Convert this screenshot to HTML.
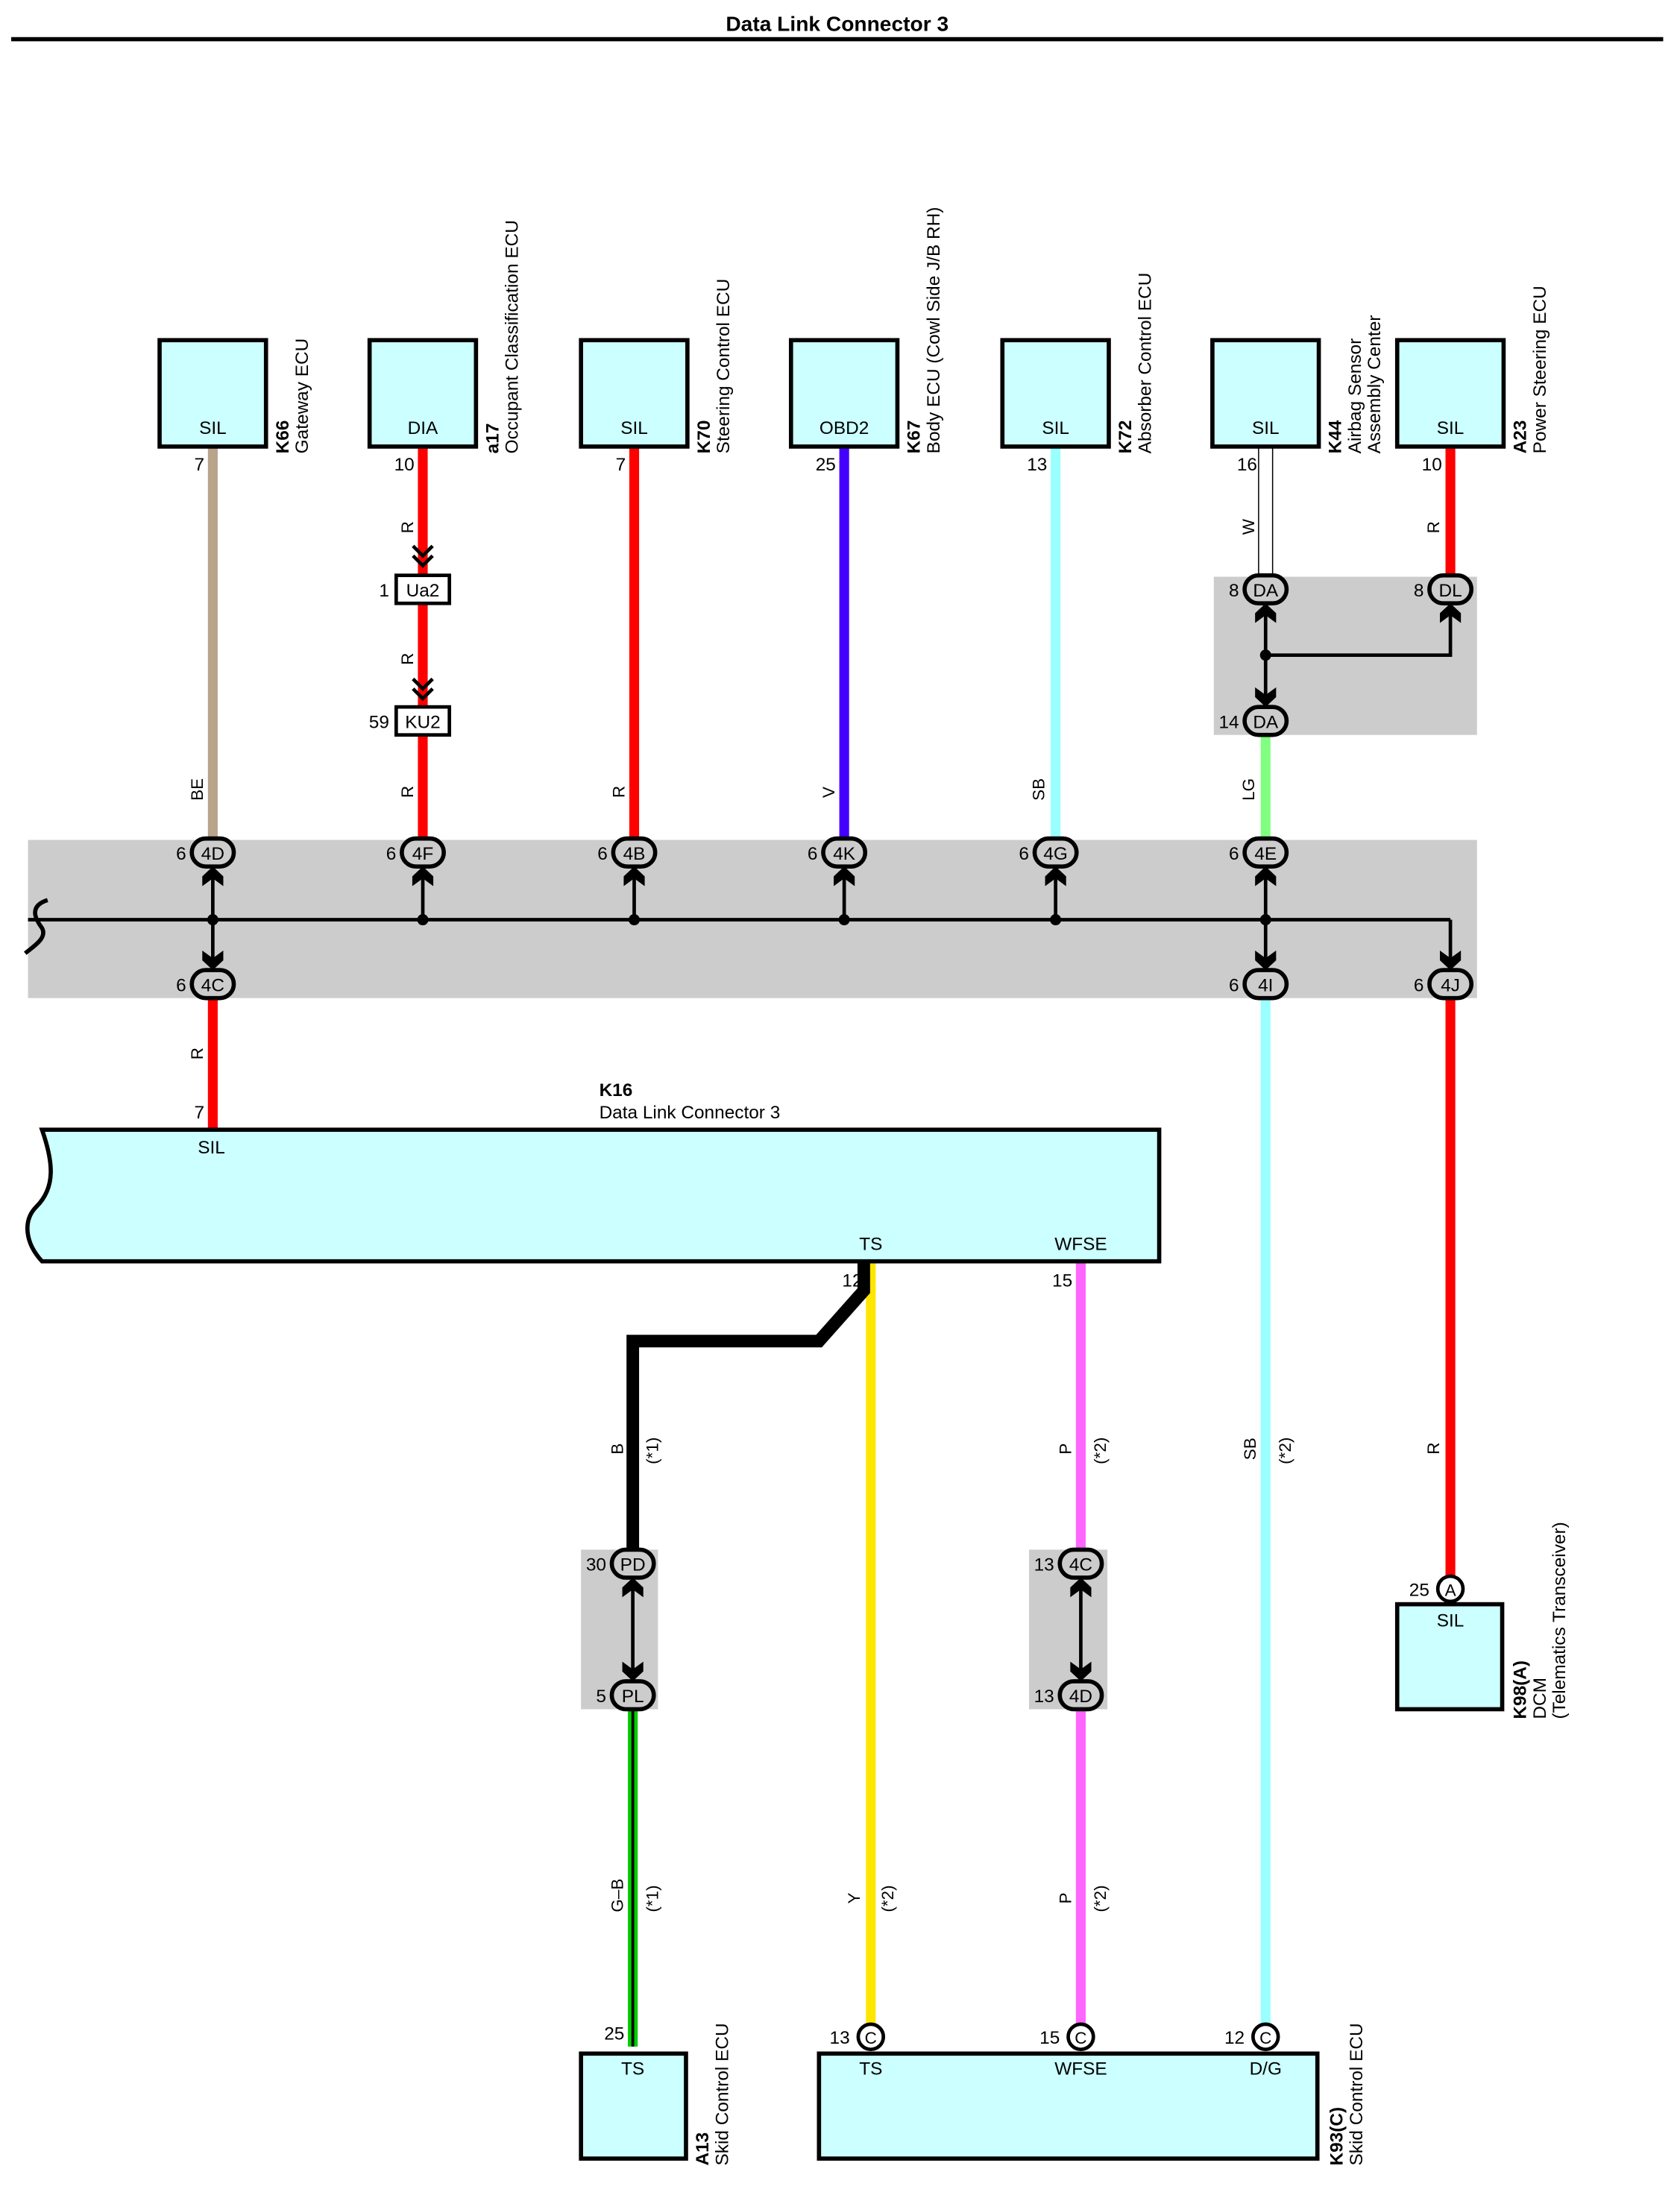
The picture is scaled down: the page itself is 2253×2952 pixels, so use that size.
<!DOCTYPE html>
<html><head><meta charset="utf-8"><style>
html,body{margin:0;padding:0;background:#fff}
svg{display:block}
text{font-family:"Liberation Sans",Arial,sans-serif;fill:#000}
</style></head><body>
<svg width="2253" height="2952" viewBox="0 0 1200 1572.3" xmlns="http://www.w3.org/2000/svg">
<defs>
<path id="up" d="M0,2 L7.5,9 L7.5,16 L0,10.5 L-7.5,16 L-7.5,9 Z"/>
<path id="dn" d="M0,-2 L7.5,-9 L7.5,-16 L0,-10.5 L-7.5,-16 L-7.5,-9 Z"/>
</defs>
<text x="598" y="22" font-size="15" font-weight="bold" text-anchor="middle">Data Link Connector 3</text>
<line x1="8" y1="28" x2="1188" y2="28" stroke="#000" stroke-width="3"/>

<rect x="867" y="412" width="188" height="113" fill="#cccccc"/>
<rect x="20" y="600" width="1035" height="113" fill="#cccccc"/>
<rect x="415" y="1107" width="55" height="114" fill="#cccccc"/>
<rect x="735" y="1107" width="56" height="114" fill="#cccccc"/>

<g stroke-width="7" fill="none">
<line x1="152" y1="319" x2="152" y2="600" stroke="#b8a38b"/>
<line x1="302" y1="319" x2="302" y2="600" stroke="#ff0000"/>
<line x1="453" y1="319" x2="453" y2="600" stroke="#ff0000"/>
<line x1="603" y1="319" x2="603" y2="600" stroke="#4400ff"/>
<line x1="754" y1="319" x2="754" y2="600" stroke="#99ffff"/>
<line x1="1036" y1="319" x2="1036" y2="412" stroke="#ff0000"/>
<line x1="904" y1="525" x2="904" y2="600" stroke="#80ff80"/>
<line x1="152" y1="713" x2="152" y2="807" stroke="#ff0000"/>
<line x1="904" y1="713" x2="904" y2="1446" stroke="#99ffff"/>
<line x1="1036" y1="713" x2="1036" y2="1126" stroke="#ff0000"/>
<line x1="622" y1="901" x2="622" y2="1446" stroke="#ffe600"/>
<line x1="772" y1="901" x2="772" y2="1108" stroke="#ff66ff"/>
<line x1="772" y1="1221" x2="772" y2="1446" stroke="#ff66ff"/>
</g>
<rect x="899" y="319" width="10" height="93" fill="#fff" stroke="#000" stroke-width="0.8"/>
<polyline points="617,901 617,922 585,958 452,958 452,1108" fill="none" stroke="#000" stroke-width="9"/>
<line x1="452" y1="1221" x2="452" y2="1462" stroke="#00cc00" stroke-width="7"/>
<line x1="452" y1="1221" x2="452" y2="1462" stroke="#000" stroke-width="2"/>

<g fill="#ccffff" stroke="#000" stroke-width="3">
<rect x="114" y="243" width="76" height="76"/>
<rect x="264" y="243" width="76" height="76"/>
<rect x="415" y="243" width="76" height="76"/>
<rect x="565" y="243" width="76" height="76"/>
<rect x="716" y="243" width="76" height="76"/>
<rect x="866" y="243" width="76" height="76"/>
<rect x="998" y="243" width="76" height="76"/>
</g>
<g font-size="13" text-anchor="middle">
<text x="152" y="310">SIL</text><text x="302" y="310">DIA</text><text x="453" y="310">SIL</text>
<text x="603" y="310">OBD2</text><text x="754" y="310">SIL</text><text x="904" y="310">SIL</text><text x="1036" y="310">SIL</text>
</g>
<g font-size="13" text-anchor="end">
<text x="146" y="336">7</text><text x="296" y="336">10</text><text x="447" y="336">7</text>
<text x="597" y="336">25</text><text x="748" y="336">13</text><text x="898" y="336">16</text><text x="1030" y="336">10</text>
</g>
<g font-size="13">
<text transform="translate(206,324) rotate(-90)" font-weight="bold">K66</text>
<text transform="translate(220,324) rotate(-90)">Gateway ECU</text>
<text transform="translate(356,324) rotate(-90)" font-weight="bold">a17</text>
<text transform="translate(370,324) rotate(-90)">Occupant Classification ECU</text>
<text transform="translate(507,324) rotate(-90)" font-weight="bold">K70</text>
<text transform="translate(521,324) rotate(-90)">Steering Control ECU</text>
<text transform="translate(657,324) rotate(-90)" font-weight="bold">K67</text>
<text transform="translate(671,324) rotate(-90)">Body ECU (Cowl Side J/B RH)</text>
<text transform="translate(808,324) rotate(-90)" font-weight="bold">K72</text>
<text transform="translate(822,324) rotate(-90)">Absorber Control ECU</text>
<text transform="translate(958,324) rotate(-90)" font-weight="bold">K44</text>
<text transform="translate(972,324) rotate(-90)">Airbag Sensor</text>
<text transform="translate(986,324) rotate(-90)">Assembly Center</text>
<text transform="translate(1090,324) rotate(-90)" font-weight="bold">A23</text>
<text transform="translate(1104,324) rotate(-90)">Power Steering ECU</text>
<text transform="translate(506,1547) rotate(-90)" font-weight="bold">A13</text>
<text transform="translate(520,1547) rotate(-90)">Skid Control ECU</text>
<text transform="translate(959,1547) rotate(-90)" font-weight="bold">K93(C)</text>
<text transform="translate(973,1547) rotate(-90)">Skid Control ECU</text>
<text transform="translate(1090,1228) rotate(-90)" font-weight="bold">K98(A)</text>
<text transform="translate(1104,1228) rotate(-90)">DCM</text>
<text transform="translate(1118,1228) rotate(-90)">(Telematics Transceiver)</text>
</g>
<g font-size="12">
<text transform="translate(145,572) rotate(-90)">BE</text>
<text transform="translate(295,381) rotate(-90)">R</text>
<text transform="translate(295,475) rotate(-90)">R</text>
<text transform="translate(295,570) rotate(-90)">R</text>
<text transform="translate(446,570) rotate(-90)">R</text>
<text transform="translate(596,570) rotate(-90)">V</text>
<text transform="translate(746,572) rotate(-90)">SB</text>
<text transform="translate(896,382) rotate(-90)">W</text>
<text transform="translate(1028,381) rotate(-90)">R</text>
<text transform="translate(896,572) rotate(-90)">LG</text>
<text transform="translate(145,757) rotate(-90)">R</text>
<text transform="translate(445,1039) rotate(-90)">B</text>
<text transform="translate(470,1046) rotate(-90)">(*1)</text>
<text transform="translate(765,1039) rotate(-90)">P</text>
<text transform="translate(790,1046) rotate(-90)">(*2)</text>
<text transform="translate(897,1043) rotate(-90)">SB</text>
<text transform="translate(922,1046) rotate(-90)">(*2)</text>
<text transform="translate(1028,1039) rotate(-90)">R</text>
<text transform="translate(445,1366) rotate(-90)">G–B</text>
<text transform="translate(470,1366) rotate(-90)">(*1)</text>
<text transform="translate(614,1360) rotate(-90)">Y</text>
<text transform="translate(638,1366) rotate(-90)">(*2)</text>
<text transform="translate(765,1360) rotate(-90)">P</text>
<text transform="translate(790,1366) rotate(-90)">(*2)</text>
</g>

<g fill="none" stroke="#000" stroke-width="2.5">
<polyline points="295,390 302,397 309,390"/><polyline points="295,397 302,404 309,397"/>
<polyline points="295,485 302,492 309,485"/><polyline points="295,492 302,499 309,492"/>
</g>
<rect x="283" y="411" width="38" height="20" fill="#fff" stroke="#000" stroke-width="2.5"/>
<rect x="283" y="505" width="38" height="20" fill="#fff" stroke="#000" stroke-width="2.5"/>
<text x="302" y="426" font-size="13" text-anchor="middle">Ua2</text>
<text x="302" y="520" font-size="13" text-anchor="middle">KU2</text>
<text x="278" y="426" font-size="13" text-anchor="end">1</text>
<text x="278" y="520" font-size="13" text-anchor="end">59</text>

<g stroke="#000" stroke-width="2.5" fill="none">
<line x1="20" y1="657" x2="1036" y2="657"/>
<line x1="1036" y1="657" x2="1036" y2="690"/>
<line x1="152" y1="625" x2="152" y2="688"/>
<line x1="302" y1="625" x2="302" y2="657"/>
<line x1="453" y1="625" x2="453" y2="657"/>
<line x1="603" y1="625" x2="603" y2="657"/>
<line x1="754" y1="625" x2="754" y2="657"/>
<line x1="904" y1="625" x2="904" y2="688"/>
<line x1="904" y1="436" x2="904" y2="500"/>
<polyline points="904,468 1036,468 1036,436"/>
<line x1="452" y1="1130" x2="452" y2="1196"/>
<line x1="772" y1="1130" x2="772" y2="1196"/>
<path d="M34,643 C18,648 28,660 30,663 C34,670 24,676 18,681" stroke-width="3"/>
</g>
<g fill="#000">
<circle cx="152" cy="657" r="4"/><circle cx="302" cy="657" r="4"/><circle cx="453" cy="657" r="4"/>
<circle cx="603" cy="657" r="4"/><circle cx="754" cy="657" r="4"/><circle cx="904" cy="657" r="4"/>
<circle cx="904" cy="468" r="4"/>
<use href="#up" x="152" y="617"/><use href="#up" x="302" y="617"/><use href="#up" x="453" y="617"/>
<use href="#up" x="603" y="617"/><use href="#up" x="754" y="617"/><use href="#up" x="904" y="617"/>
<use href="#dn" x="152" y="695"/><use href="#dn" x="904" y="695"/><use href="#dn" x="1036" y="695"/>
<use href="#up" x="904" y="429"/><use href="#up" x="1036" y="429"/><use href="#dn" x="904" y="507"/>
<use href="#up" x="452" y="1125"/><use href="#dn" x="452" y="1203"/>
<use href="#up" x="772" y="1125"/><use href="#dn" x="772" y="1203"/>
</g>

<g stroke="#000" stroke-width="3" fill="#cccccc">
<rect x="137" y="599" width="30" height="20" rx="10"/>
<rect x="287" y="599" width="30" height="20" rx="10"/>
<rect x="438" y="599" width="30" height="20" rx="10"/>
<rect x="588" y="599" width="30" height="20" rx="10"/>
<rect x="739" y="599" width="30" height="20" rx="10"/>
<rect x="889" y="599" width="30" height="20" rx="10"/>
<rect x="137" y="693" width="30" height="20" rx="10"/>
<rect x="889" y="693" width="30" height="20" rx="10"/>
<rect x="1021" y="693" width="30" height="20" rx="10"/>
<rect x="889" y="411" width="30" height="20" rx="10"/>
<rect x="1021" y="411" width="30" height="20" rx="10"/>
<rect x="889" y="505" width="30" height="20" rx="10"/>
<rect x="437" y="1107" width="30" height="20" rx="10"/>
<rect x="437" y="1201" width="30" height="20" rx="10"/>
<rect x="757" y="1107" width="30" height="20" rx="10"/>
<rect x="757" y="1201" width="30" height="20" rx="10"/>
</g>
<g font-size="13" text-anchor="middle">
<text x="152" y="614">4D</text><text x="302" y="614">4F</text><text x="453" y="614">4B</text>
<text x="603" y="614">4K</text><text x="754" y="614">4G</text><text x="904" y="614">4E</text>
<text x="152" y="708">4C</text><text x="904" y="708">4I</text><text x="1036" y="708">4J</text>
<text x="904" y="426">DA</text><text x="1036" y="426">DL</text><text x="904" y="520">DA</text>
<text x="452" y="1122">PD</text><text x="452" y="1216">PL</text>
<text x="772" y="1122">4C</text><text x="772" y="1216">4D</text>
</g>
<g font-size="13" text-anchor="end">
<text x="133" y="614">6</text><text x="283" y="614">6</text><text x="434" y="614">6</text>
<text x="584" y="614">6</text><text x="735" y="614">6</text><text x="885" y="614">6</text>
<text x="133" y="708">6</text><text x="885" y="708">6</text><text x="1017" y="708">6</text>
<text x="885" y="426">8</text><text x="1017" y="426">8</text><text x="885" y="520">14</text>
<text x="433" y="1122">30</text><text x="433" y="1216">5</text>
<text x="753" y="1122">13</text><text x="753" y="1216">13</text>
<text x="146" y="799">7</text><text x="616" y="919">12</text><text x="766" y="919">15</text>
<text x="446" y="1457">25</text><text x="607" y="1460">13</text><text x="757" y="1460">15</text>
<text x="889" y="1460">12</text><text x="1021" y="1140">25</text>
</g>

<path d="M30,807 L828,807 L828,901 L30,901 C18,888 16,872 26,862 C40,848 38,830 30,807 Z" fill="#ccffff" stroke="#000" stroke-width="3"/>
<text x="428" y="783" font-size="13" font-weight="bold">K16</text>
<text x="428" y="799" font-size="13">Data Link Connector 3</text>
<g font-size="13" text-anchor="middle">
<text x="151" y="824">SIL</text><text x="622" y="893">TS</text><text x="772" y="893">WFSE</text>
</g>

<g stroke="#000" stroke-width="2.5" fill="#fff">
<circle cx="622" cy="1455" r="9"/><circle cx="772" cy="1455" r="9"/><circle cx="904" cy="1455" r="9"/>
<circle cx="1036" cy="1135" r="9"/>
</g>
<g font-size="12" text-anchor="middle">
<text x="622" y="1460">C</text><text x="772" y="1460">C</text><text x="904" y="1460">C</text><text x="1036" y="1140">A</text>
</g>

<g fill="#ccffff" stroke="#000" stroke-width="3">
<rect x="415" y="1467" width="75" height="75"/>
<rect x="585" y="1467" width="356" height="75"/>
<rect x="998" y="1146" width="75" height="75"/>
</g>
<g font-size="13" text-anchor="middle">
<text x="452" y="1482">TS</text><text x="622" y="1482">TS</text><text x="772" y="1482">WFSE</text>
<text x="904" y="1482">D/G</text><text x="1036" y="1162">SIL</text>
</g>
</svg>
</body></html>
